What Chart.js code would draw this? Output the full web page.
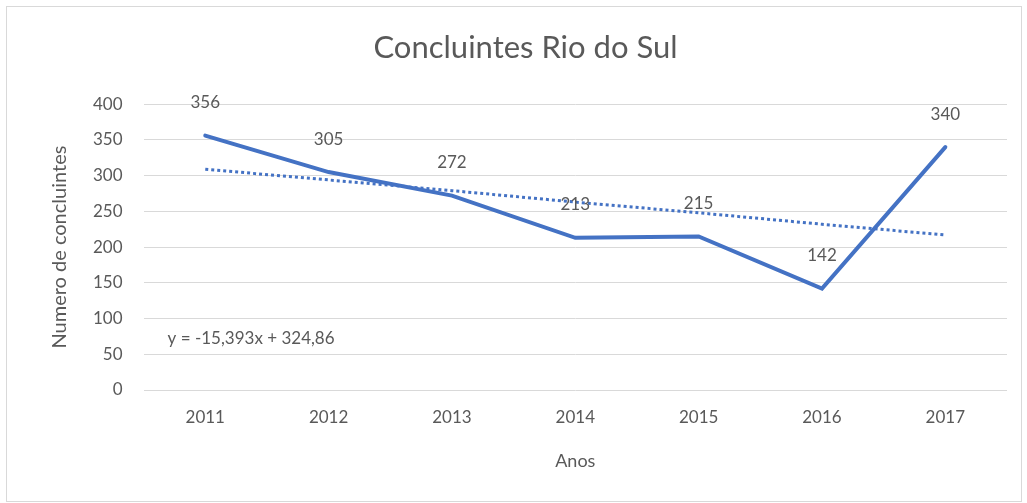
<!DOCTYPE html>
<html>
<head>
<meta charset="utf-8">
<script src="https://cdn.jsdelivr.net/npm/chart.js@4.4.0/dist/chart.umd.min.js"></script>
<style>
  body { margin: 0; background: #fff; }
  #box { position: absolute; left: 6px; top: 6px; width: 1014px; height: 494px; border: 1px solid #d9d9d9; background: #fff; }
</style>
</head>
<body>
<div id="box"><canvas id="myChart" width="1014" height="494"></canvas></div>
<script>
// data
var anos = ['2011', '2012', '2013', '2014', '2015', '2016', '2017'];
var concluintes = [356, 305, 272, 213, 215, 142, 340];
// linear trend line as seen on the chart
var tendencia = [309, 294, 279, 263, 248, 232, 217];
var equacao = 'y = -15,393x + 324,86';

var fonte = 'Lato, "Open Sans", sans-serif';
var cinza = '#595959';

// draws the value labels and the trend equation
var rotulos = {
    id: 'rotulos',
    afterDatasetsDraw: function(chart) {
        var ctx = chart.ctx;
        var meta = chart.getDatasetMeta(0);
        ctx.save();
        ctx.fillStyle = cinza;
        ctx.font = '17px ' + fonte;
        ctx.textAlign = 'center';
        ctx.textBaseline = 'middle';
        for (var i = 0; i < meta.data.length; i++) {
            var p = meta.data[i];
            ctx.fillText(String(concluintes[i]), p.x, p.y - 33);
        }
        var y = chart.scales.y.getPixelForValue(72);
        ctx.textAlign = 'left';
        ctx.fillText(equacao, chart.chartArea.left + 24, y);
        ctx.restore();
    }
};

var ctx = document.getElementById('myChart').getContext('2d');
var chart = new Chart(ctx, {
    type: 'line',
    data: {
        labels: anos,
        datasets: [{
            label: 'Concluintes',
            data: concluintes,
            borderColor: '#4472C4',
            borderWidth: 4,
            pointRadius: 0,
            tension: 0,
            borderCapStyle: 'round',
            borderJoinStyle: 'miter'
        }, {
            label: 'Linear',
            data: tendencia,
            borderColor: '#4472C4',
            borderWidth: 3,
            borderDash: [3, 3],
            pointRadius: 0,
            tension: 0
        }]
    },
    options: {
        responsive: false,
        animation: false,
        layout: { padding: { left: 37, right: 14, top: 10, bottom: 25 } },
        plugins: {
            legend: { display: false },
            tooltip: { enabled: false },
            title: {
                display: true,
                text: 'Concluintes Rio do Sul',
                color: cinza,
                font: { family: fonte, size: 31, weight: 'normal' },
                padding: { top: 12, bottom: 38 }
            }
        },
        scales: {
            x: {
                offset: true,
                grid: { display: false },
                border: { display: false },
                ticks: { color: cinza, font: { family: fonte, size: 17 }, padding: 9 },
                title: { display: true, text: 'Anos', color: cinza, font: { family: fonte, size: 18 }, padding: { top: 14 } }
            },
            y: {
                min: 0,
                max: 400,
                ticks: { stepSize: 50, color: cinza, font: { family: fonte, size: 17 }, padding: 21 },
                grid: { color: '#d9d9d9', lineWidth: 1, drawTicks: false },
                border: { display: false },
                title: { display: true, text: 'Numero de concluintes', color: cinza, font: { family: fonte, size: 20 }, padding: { bottom: 0 } }
            }
        }
    },
    plugins: [rotulos]
});
</script>
</body>
</html>
